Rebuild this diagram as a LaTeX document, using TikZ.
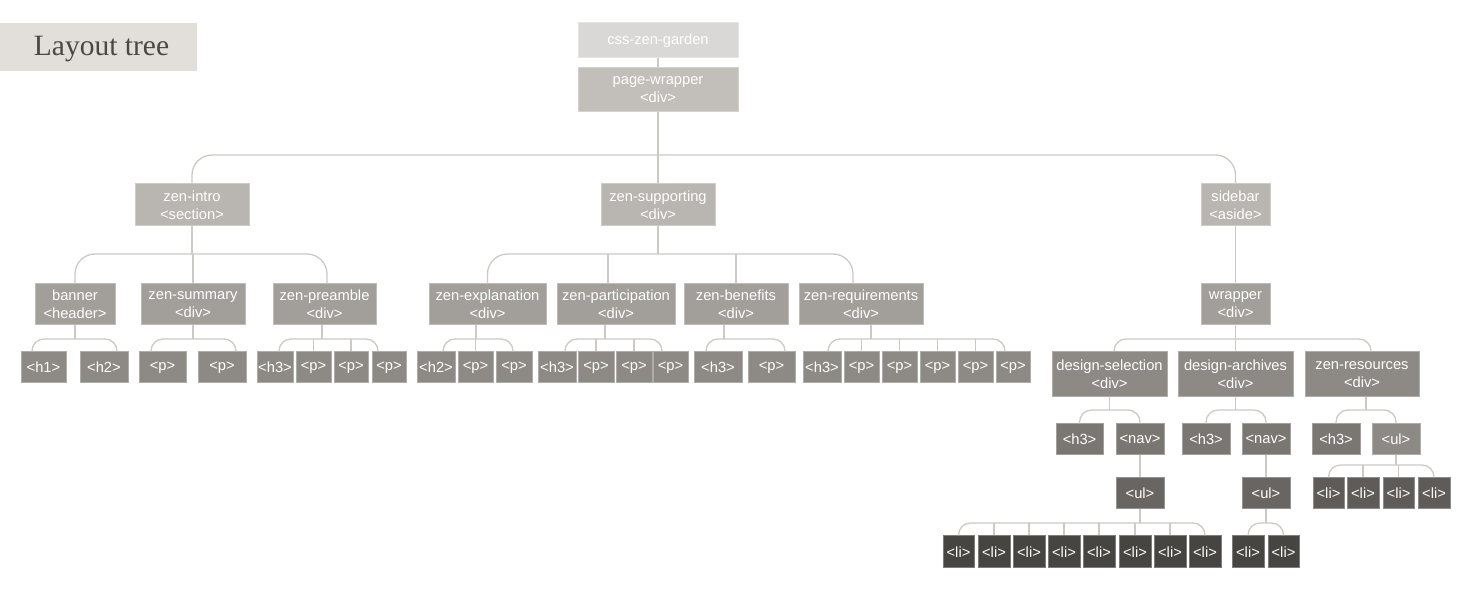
\documentclass[tikz,border=0pt]{standalone}
\usepackage{fontspec}
\setmainfont{Liberation Sans}
\newfontfamily\titlefont{Liberation Serif}
\usetikzlibrary{calc}

\definecolor{tbg}{HTML}{E2DFDB}
\definecolor{ttx}{HTML}{4A4744}
\definecolor{c0}{HTML}{D9D8D6}
\definecolor{c1}{HTML}{C2BEB9}
\definecolor{c2}{HTML}{B9B5B1}
\definecolor{c3}{HTML}{A29F9B}
\definecolor{c4}{HTML}{8D8A86}
\definecolor{c5}{HTML}{7A7773}
\definecolor{c6}{HTML}{686562}
\definecolor{c7}{HTML}{5E5B58}
\definecolor{c8}{HTML}{474541}
\definecolor{lnc}{HTML}{CDCAC6}

\tikzset{
  bx/.style={fill=#1, draw=#1!70!white, line width=0.8pt, inner sep=0pt,
    align=center, text=white, font=\fontsize{14.7}{18}\selectfont},
  conn/.style={draw=lnc, line width=1.3pt},
}

% box given by its left, top, right and bottom edges
\newcommand\bx[7]{\node[bx=#6, minimum width={#4-#2}, minimum height={#5-#3}]
  (#1) at ({(#2+#4)/2},{(#3+#5)/2+0.8}) {#7};}
% vertical stem below a parent down to a bar level
\newcommand\stemto[3]{\draw[conn] ($(#1.south)+(#3,0)$) -- ($(#1.south |- #2)+(#3,0)$);}
% vertical drop from a bar level into a child
\newcommand\dropto[3]{\draw[conn] ($(#1.north)+(#3,0)$) -- ($(#1.north |- #2)+(#3,0)$);}
% horizontal bar with rounded ends into the outer children
\newcommand\arms[6]{\draw[conn, rounded corners=#6] ($(#1.north)+(#2,0)$) |- ($(#4.north |- #3)+(#5,0)$) -- ($(#4.north)+(#5,0)$);}

\begin{document}
\begin{tikzpicture}[x=1pt, y=-1pt]
\useasboundingbox (0,0) rectangle (1462,596);

% title
\fill[tbg] (0,23) rectangle (197,71);
\node[inner sep=0pt, text=ttx, font=\titlefont\fontsize{29.5}{34}\selectfont]
  (title) at (101.5,49.5) {Layout tree};

% bar levels
\coordinate (y1) at (0,155);
\coordinate (y2) at (0,254);
\coordinate (y3) at (0,339);
\coordinate (y4) at (0,410);
\coordinate (y5) at (0,465);
\coordinate (y6) at (0,523);

% root
\bx{css}{578}{22}{738}{57}{c0}{css-zen-garden}
\bx{pw}{578}{67}{738}{111}{c1}{page-wrapper\\<div>}

% second level
\bx{intro}{135}{183}{249}{225}{c2}{zen-intro\\<section>}
\bx{supp}{601}{183}{715}{225}{c2}{zen-supporting\\<div>}
\bx{side}{1201}{183}{1270}{225}{c2}{sidebar\\<aside>}

% third level
\bx{banner}{35}{283}{115}{324}{c3}{banner\\<header>}
\bx{summ}{141}{283}{245}{324}{c3}{zen-summary\\<div>}
\bx{pre}{273}{283}{376}{324}{c3}{zen-preamble\\<div>}
\bx{expl}{429}{283}{546}{324}{c3}{zen-explanation\\<div>}
\bx{part}{557}{283}{675}{324}{c3}{zen-participation\\<div>}
\bx{ben}{684}{283}{788}{324}{c3}{zen-benefits\\<div>}
\bx{req}{799}{283}{923}{324}{c3}{zen-requirements\\<div>}
\bx{wrap}{1201}{283}{1270}{324}{c3}{wrapper\\<div>}

% leaves of the main column
\bx{h1}{21}{351}{66}{382}{c4}{<h1>}
\bx{h2}{80}{351}{128}{382}{c4}{<h2>}
\bx{sp1}{139}{351}{186}{382}{c4}{<p>}
\bx{sp2}{198}{351}{246}{382}{c4}{<p>}
\bx{pr1}{257}{351}{293}{382}{c4}{<h3>}
\bx{pr2}{296}{351}{331}{382}{c4}{<p>}
\bx{pr3}{334}{351}{368}{382}{c4}{<p>}
\bx{pr4}{372}{351}{406}{382}{c4}{<p>}
\bx{ex1}{417}{351}{455}{382}{c4}{<h2>}
\bx{ex2}{458}{351}{493}{382}{c4}{<p>}
\bx{ex3}{496}{351}{532}{382}{c4}{<p>}
\bx{pa1}{538}{351}{576}{382}{c4}{<h3>}
\bx{pa2}{578}{351}{614}{382}{c4}{<p>}
\bx{pa3}{616}{351}{652}{382}{c4}{<p>}
\bx{pa4}{653}{351}{688}{382}{c4}{<p>}
\bx{be1}{694}{351}{742}{382}{c4}{<h3>}
\bx{be2}{748}{351}{795}{382}{c4}{<p>}
\bx{rq1}{803}{351}{841}{382}{c4}{<h3>}
\bx{rq2}{844}{351}{879}{382}{c4}{<p>}
\bx{rq3}{882}{351}{917}{382}{c4}{<p>}
\bx{rq4}{920}{351}{955}{382}{c4}{<p>}
\bx{rq5}{958}{351}{993}{382}{c4}{<p>}
\bx{rq6}{996}{351}{1030}{382}{c4}{<p>}

% sidebar subtree
\bx{ds}{1052}{351}{1167}{396}{c4}{design-selection\\<div>}
\bx{da}{1178}{351}{1293}{396}{c4}{design-archives\\<div>}
\bx{zr}{1305}{351}{1419}{396}{c4}{zen-resources\\<div>}
\bx{dsh}{1056}{423}{1103}{454}{c5}{<h3>}
\bx{dsn}{1116}{423}{1164}{454}{c5}{<nav>}
\bx{dah}{1182}{423}{1230}{454}{c5}{<h3>}
\bx{dan}{1242}{423}{1290}{454}{c5}{<nav>}
\bx{zrh}{1312}{423}{1360}{454}{c5}{<h3>}
\bx{zru}{1372}{423}{1420}{454}{c4}{<ul>}
\bx{dsu}{1116}{477}{1164}{508}{c6}{<ul>}
\bx{dau}{1242}{477}{1290}{508}{c6}{<ul>}
\bx{zl1}{1313}{477}{1344}{508}{c7}{<li>}
\bx{zl2}{1347}{477}{1379}{508}{c7}{<li>}
\bx{zl3}{1383}{477}{1414}{508}{c7}{<li>}
\bx{zl4}{1418}{477}{1450}{508}{c7}{<li>}
\bx{li1}{943}{535}{974}{567}{c8}{<li>}
\bx{li2}{978}{535}{1010}{567}{c8}{<li>}
\bx{li3}{1013}{535}{1045}{567}{c8}{<li>}
\bx{li4}{1048}{535}{1080}{567}{c8}{<li>}
\bx{li5}{1083}{535}{1115}{567}{c8}{<li>}
\bx{li6}{1119}{535}{1151}{567}{c8}{<li>}
\bx{li7}{1154}{535}{1186}{567}{c8}{<li>}
\bx{li8}{1189}{535}{1221}{567}{c8}{<li>}
\bx{li9}{1232}{535}{1264}{567}{c8}{<li>}
\bx{li10}{1268}{535}{1299}{567}{c8}{<li>}

% connectors: root
\draw[conn] (css.south) -- (pw.north);
\stemto{pw}{y1}{0}
\arms{intro}{0}{y1}{side}{0}{20}
\dropto{supp}{y1}{0}

% connectors: second level
\stemto{intro}{y2}{0}
\arms{banner}{0}{y2}{pre}{2.5}{20}
\dropto{summ}{y2}{0}
\stemto{supp}{y2}{0}
\arms{expl}{0}{y2}{req}{-8}{20}
\dropto{part}{y2}{-8}
\dropto{ben}{y2}{0}
\draw[conn] (side.south) -- (wrap.north);

% connectors: third level
\stemto{banner}{y3}{0}
\arms{h1}{-11.5}{y3}{h2}{13}{12}
\stemto{summ}{y3}{0}
\arms{sp1}{-11.5}{y3}{sp2}{14}{12}
\stemto{pre}{y3}{-2.5}
\arms{pr1}{4}{y3}{pr4}{-11}{12}
\dropto{pr2}{y3}{0}
\dropto{pr3}{y3}{0}
\stemto{expl}{y3}{-11.5}
\arms{ex1}{7}{y3}{ex3}{-1}{12}
\dropto{ex2}{y3}{0}
\stemto{part}{y3}{-11}
\arms{pa1}{8}{y3}{pa4}{-8.5}{12}
\dropto{pa2}{y3}{0}
\dropto{pa3}{y3}{0}
\stemto{ben}{y3}{-12}
\arms{be1}{-12}{y3}{be2}{13.5}{12}
\stemto{req}{y3}{10}
\arms{rq1}{6}{y3}{rq6}{-8}{12}
\dropto{rq2}{y3}{0}
\dropto{rq3}{y3}{0}
\dropto{rq4}{y3}{0}
\dropto{rq5}{y3}{0}

% connectors: sidebar
\stemto{wrap}{y3}{0}
\arms{ds}{4.5}{y3}{zr}{9}{12}
\dropto{da}{y3}{0}
\stemto{ds}{y4}{0}
\arms{dsh}{0}{y4}{dsn}{0}{12}
\stemto{da}{y4}{0}
\arms{dah}{0}{y4}{dan}{0}{12}
\stemto{zr}{y4}{4}
\arms{zrh}{0}{y4}{zru}{0}{12}
\draw[conn] (dsn.south) -- (dsu.north);
\draw[conn] (dan.south) -- (dau.north);
\stemto{zru}{y5}{0}
\arms{zl1}{0}{y5}{zl4}{0}{12}
\dropto{zl2}{y5}{0}
\dropto{zl3}{y5}{0}
\stemto{dsu}{y6}{0}
\arms{li1}{0}{y6}{li8}{0}{12}
\dropto{li2}{y6}{0}
\dropto{li3}{y6}{0}
\dropto{li4}{y6}{0}
\dropto{li5}{y6}{0}
\dropto{li6}{y6}{0}
\dropto{li7}{y6}{0}
\stemto{dau}{y6}{0}
\arms{li9}{0}{y6}{li10}{0}{12}
\end{tikzpicture}
\end{document}
